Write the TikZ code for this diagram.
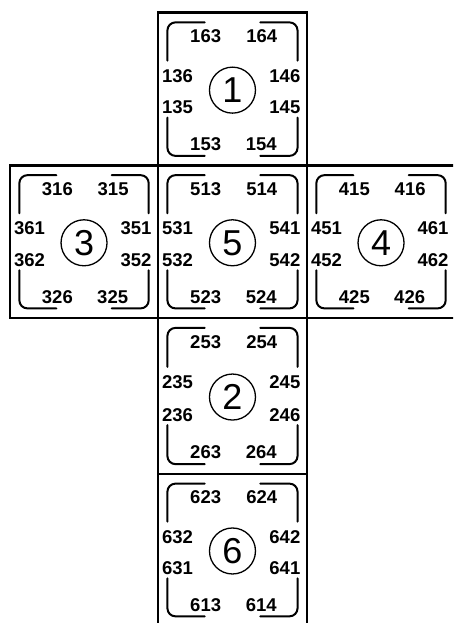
\documentclass[tikz,border=0pt]{standalone}
\usepackage{fontspec}
\setmainfont{Liberation Sans}
\tikzset{
  boxline/.style={line width=2.8pt, line join=miter},
  bracket/.style={line width=2pt, rounded corners=8pt, line cap=round},
  lab/.style={inner sep=0pt, font=\bfseries\fontsize{18.5}{18.5}\selectfont},
  num/.style={circle, draw, line width=1.3pt, minimum size=46pt, inner sep=0pt,
    font=\fontsize{36}{36}\selectfont}
}
\newcommand\facecontent[9]{%
  \draw[bracket] (9.5,47) -- (9.5,9.5) -- (47,9.5);
  \draw[bracket] (103,9.5) -- (140.5,9.5) -- (140.5,47);
  \draw[bracket] (9.5,103) -- (9.5,140.5) -- (47,140.5);
  \draw[bracket] (103,140.5) -- (140.5,140.5) -- (140.5,103);
  \node[lab] (f#1a) at (48,23) {#2};
  \node[lab] (f#1b) at (104.5,23) {#3};
  \node[lab,anchor=west] (f#1c) at (4,62) {#4};
  \node[lab,anchor=west] (f#1d) at (4,93) {#5};
  \node[lab,anchor=east] (f#1e) at (143.5,62) {#6};
  \node[lab,anchor=east] (f#1f) at (143.5,93) {#7};
  \node[lab] (f#1g) at (48,129) {#8};
  \node[lab] (f#1h) at (104,129) {#9};
  \node[num] (f#1) at (75,76) {#1};
}
\begin{document}
\begin{tikzpicture}[x=1pt,y=-1pt]
\useasboundingbox (0,0) rectangle (453,623);
\begin{scope}
\clip (0,0) rectangle (453,623);
% outlines
\draw[boxline] (158,12.7) rectangle (307,165.5);
\draw[boxline] (10,165.5) rectangle (455,318);
\draw[boxline] (158,165.5) -- (158,318);
\draw[boxline] (307,165.5) -- (307,318);
\draw[boxline] (158,318) rectangle (307,474);
\draw[boxline] (158,474) rectangle (307,626);
% faces
\begin{scope}[shift={(158,12.7)}, xscale=0.993, yscale=1.019]
  \facecontent{1}{163}{164}{136}{135}{146}{145}{153}{154}
\end{scope}
\begin{scope}[shift={(10,165.5)}, xscale=0.987, yscale=1.017]
  \facecontent{3}{316}{315}{361}{362}{351}{352}{326}{325}
\end{scope}
\begin{scope}[shift={(158,165.5)}, xscale=0.993, yscale=1.017]
  \facecontent{5}{513}{514}{531}{532}{541}{542}{523}{524}
\end{scope}
\begin{scope}[shift={(307,165.5)}, xscale=0.987, yscale=1.017]
  \facecontent{4}{415}{416}{451}{452}{461}{462}{425}{426}
\end{scope}
\begin{scope}[shift={(158,318)}, xscale=0.993, yscale=1.04]
  \facecontent{2}{253}{254}{235}{236}{245}{246}{263}{264}
\end{scope}
\begin{scope}[shift={(158,474)}, xscale=0.993, yscale=1.013]
  \facecontent{6}{623}{624}{632}{631}{642}{641}{613}{614}
\end{scope}
\end{scope}
\end{tikzpicture}
\end{document}
